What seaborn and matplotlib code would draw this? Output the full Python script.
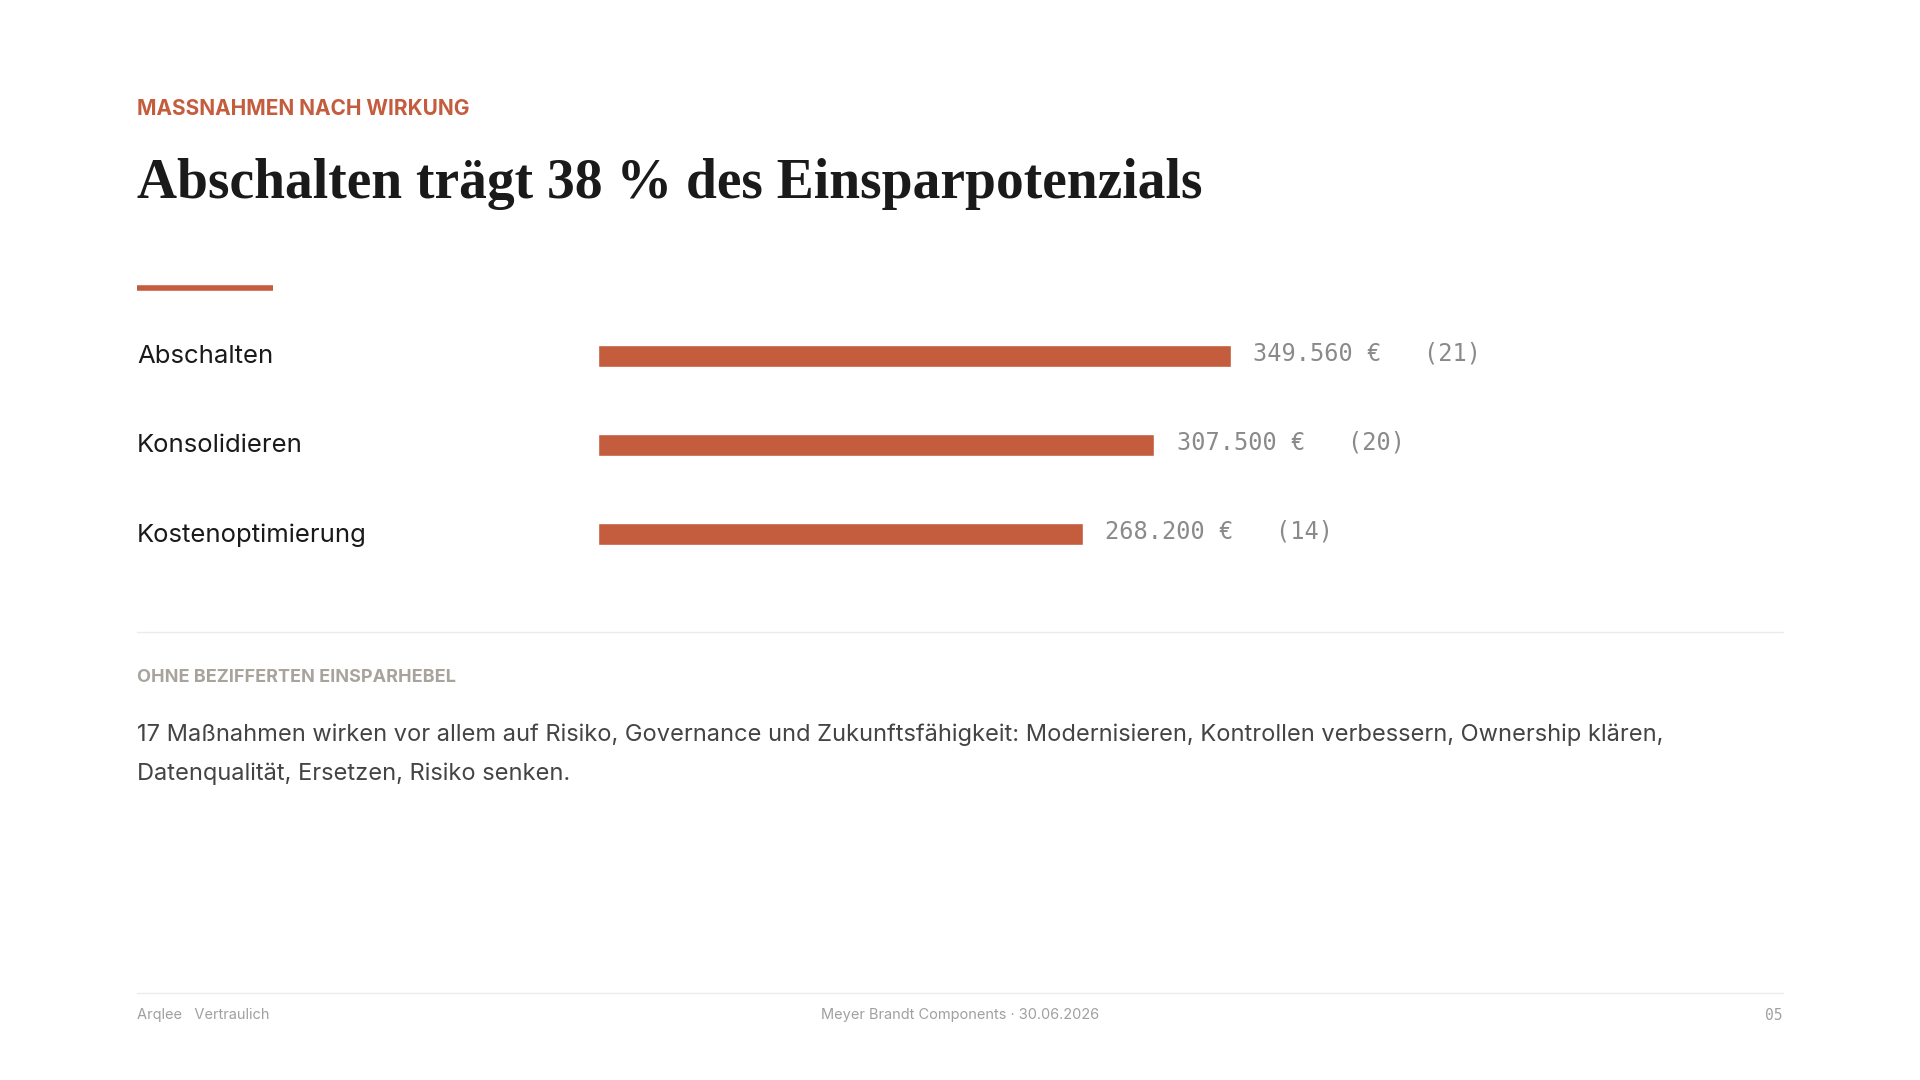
import matplotlib
matplotlib.use("Agg")
import matplotlib.pyplot as plt
import seaborn as sns
import pandas as pd

# Daten
kategorien = ["Abschalten", "Konsolidieren", "Kostenoptimierung"]
einsparung = [349560, 307500, 268200]
anzahl = [21, 20, 14]
wert_labels = ["349.560 €", "307.500 €", "268.200 €"]

AKZENT = "#c45c3e"
GRAU = "#8a8a8a"

sns.set_theme(style="white")
plt.rcParams["font.family"] = ["Inter", "DejaVu Sans"]

fig = plt.figure(figsize=(19.2, 10.8), dpi=100)
fig.patch.set_facecolor("white")

W, H = 1568, 882
def fx(x): return x / W
def fy(y): return 1 - y / H

# Kopf
fig.text(fx(112), fy(89), "MASSNAHMEN NACH WIRKUNG", color=AKZENT,
         fontsize=15, fontweight="bold", va="center")
fig.text(fx(112), fy(150), "Abschalten trägt 38 % des Einsparpotenzials",
         family=["Liberation Serif", "DejaVu Serif"], fontsize=40,
         fontweight="bold", color="#1a1a1a", va="center")
fig.add_artist(plt.Line2D([fx(112), fx(223)], [fy(235), fy(235)],
                          color=AKZENT, lw=4, solid_capstyle="butt"))

# Balken
ax = fig.add_axes([fx(488), fy(472.5), fx(1456) - fx(488), fy(254.5) - fy(472.5)])
df = pd.DataFrame({"kat": kategorien, "wert": einsparung})
sns.barplot(data=df, y="kat", x="wert", orient="h", color=AKZENT,
            saturation=1, width=0.25, ax=ax)
ax.set_xlim(0, (1456 - 488) / 0.001479)
ax.set_ylim(2.5, -0.5)
ax.axis("off")

for i, (v, lab, n) in enumerate(zip(einsparung, wert_labels, anzahl)):
    ax.annotate(f"{lab}   ({n})", (v, i), xytext=(16, 2), textcoords="offset points",
                va="center", ha="left", family="DejaVu Sans Mono",
                fontsize=17, color=GRAU)
    fig.text(fx(112), fy(291 + 73 * i), kategorien[i], fontsize=18.5,
             color="#1a1a1a", va="center")

# Trenner und Text
fig.add_artist(plt.Line2D([fx(112), fx(1456)], [fy(516), fy(516)], color="#ebebeb", lw=1))
fig.text(fx(112), fy(553), "OHNE BEZIFFERTEN EINSPARHEBEL", color="#a8a39c",
         fontsize=13, fontweight="bold", va="center")
fig.text(fx(112), fy(600),
         "17 Maßnahmen wirken vor allem auf Risiko, Governance und Zukunftsfähigkeit: "
         "Modernisieren, Kontrollen verbessern, Ownership klären,",
         fontsize=17, color="#444444", va="center")
fig.text(fx(112), fy(632), "Datenqualität, Ersetzen, Risiko senken.",
         fontsize=17, color="#444444", va="center")

# Fußzeile
fig.add_artist(plt.Line2D([fx(112), fx(1456)], [fy(811), fy(811)], color="#ebebeb", lw=1))
fig.text(fx(112), fy(829), "Arqlee   Vertraulich", fontsize=10.5, color="#a0a0a0", va="center")
fig.text(fx(784), fy(829), "Meyer Brandt Components · 30.06.2026", fontsize=10.5,
         color="#a0a0a0", va="center", ha="center")
fig.text(fx(1456), fy(829), "05", fontsize=10.5, color="#a0a0a0", va="center", ha="right",
         family="DejaVu Sans Mono")

fig.savefig("out.png", dpi=100, facecolor="white")
